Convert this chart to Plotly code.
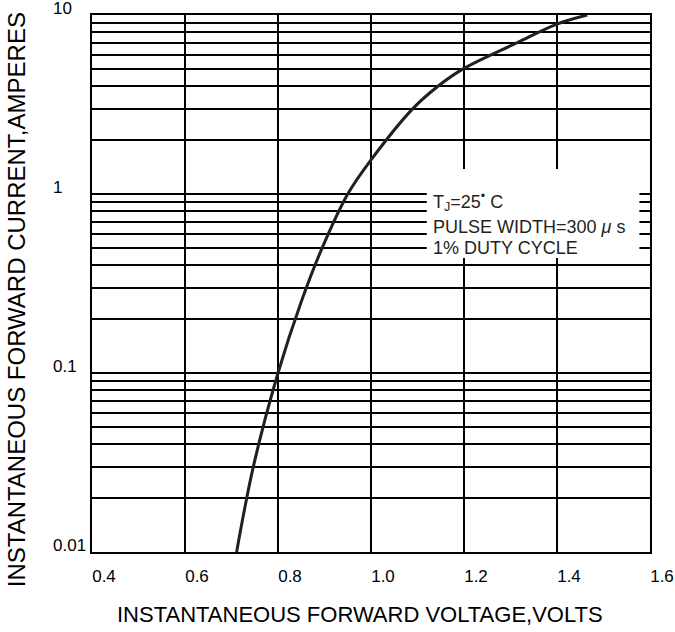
import math
import plotly.graph_objects as go

# Curve data
voltage = [0.711, 0.747, 0.800, 0.850, 0.895, 0.950, 1.000, 1.090, 1.144, 1.198, 1.314, 1.400, 1.465]
current = [0.01, 0.03, 0.1, 0.25, 0.5, 1.0, 1.55, 3.0, 4.0, 5.0, 7.0, 8.9, 10.0]

x_ticks = [0.4, 0.6, 0.8, 1.0, 1.2, 1.4, 1.6]
x_labels = ["0.4", "0.6", "0.8", "1.0", "1.2", "1.4", "1.6"]

decades = [0.01, 0.1, 1, 10]
decade_labels = ["0.01", "0.1", "1", "10"]

grid_vals = []
for d in decades[:-1]:
    for m in range(1, 10):
        grid_vals.append(round(d * m, 6))
grid_vals.append(10)

fig = go.Figure()
fig.add_trace(go.Scatter(
    x=voltage, y=current, mode="lines",
    line=dict(color="#231f20", width=3, shape="spline", smoothing=1.0),
    showlegend=False, hoverinfo="skip",
))

tick_font = dict(family="Liberation Sans, Arial", size=17, color="black")

fig.update_layout(
    width=675, height=632,
    margin=dict(l=92, r=25, t=15, b=80),
    paper_bgcolor="white", plot_bgcolor="white",
    xaxis=dict(
        range=[0.4, 1.6], tickvals=x_ticks, ticktext=x_labels,
        showgrid=True, gridcolor="black", gridwidth=2,
        showline=True, linecolor="black", linewidth=2, mirror=True,
        ticks="", tickfont=tick_font, zeroline=False, automargin=False,
        ticklabelstandoff=8, ticklabelshift=12,
    ),
    yaxis=dict(
        type="log", range=[-2, 1], tickvals=grid_vals,
        showgrid=True, gridcolor="black", gridwidth=2,
        showline=True, linecolor="black", linewidth=2, mirror=True,
        ticks="", showticklabels=False, zeroline=False, automargin=False,
    ),
    shapes=[dict(type="rect", xref="paper", yref="paper",
                 x0=0.600, x1=0.981, y0=0.5475, y1=0.713,
                 fillcolor="white", line=dict(width=0), layer="above")],
)

# y tick labels (left aligned, sitting on the decade lines)
for v, lab in zip(decades, decade_labels):
    fig.add_annotation(text=lab, xref="paper", yref="y", x=-0.0726, y=math.log10(v),
                       xanchor="left", yanchor="middle", yshift=7, showarrow=False,
                       font=tick_font)

label_font = dict(family="Liberation Sans, Arial", size=18, color="#231f20")
notes = [
    ("T<sub>J</sub>=25<sup>•</sup> C", 0.6527),
    ("PULSE WIDTH=300 <i>μ</i> s", 0.606),
    ("1% DUTY CYCLE", 0.566),
]
for txt, yy in notes:
    fig.add_annotation(text=txt, xref="paper", yref="paper", x=0.6075, y=yy,
                       xanchor="left", yanchor="middle", showarrow=False, font=label_font)

fig.add_annotation(text="INSTANTANEOUS FORWARD VOLTAGE,VOLTS", xref="paper", yref="paper",
                   x=0.48, y=-0.1164, xanchor="center", yanchor="middle",
                   showarrow=False, font=dict(family="Liberation Sans, Arial", size=22, color="black"))
fig.add_annotation(text="INSTANTANEOUS FORWARD CURRENT,AMPERES", xref="paper", yref="paper",
                   x=-0.136, y=0.469, xanchor="center", yanchor="middle", textangle=-90,
                   showarrow=False, font=dict(family="Liberation Sans, Arial", size=24, color="black"))

# remove the default 8px page margin so the 675x632 figure fills the window exactly
fig.write_html("out.html",
               config={"displayModeBar": False},
               post_script="document.body.style.margin='0px';document.body.style.overflow='hidden';")
